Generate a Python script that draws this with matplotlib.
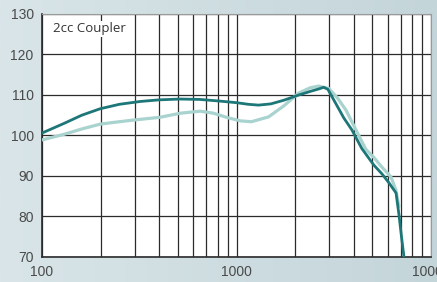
import numpy as np
import matplotlib.pyplot as plt
from matplotlib.colors import LinearSegmentedColormap
from matplotlib.ticker import FixedLocator, NullFormatter

# Frequency response readings (Hz, dB SPL)
dark_freq = [100, 130, 160, 199, 250, 320, 400, 514, 650, 817, 1000, 1150, 1297,
             1500, 1750, 2090, 2400, 2650, 2806, 2950, 3162, 3565, 3917, 4406,
             5080, 5600, 6080, 6610, 6840, 7050, 7260]
dark_db = [100.6, 103.0, 105.0, 106.6, 107.7, 108.4, 108.8, 109.0, 108.9, 108.5,
           108.1, 107.7, 107.5, 107.8, 108.7, 110.0, 110.9, 111.5, 111.9, 111.4,
           108.8, 104.3, 101.4, 96.8, 92.7, 90.5, 88.3, 85.8, 80.5, 75.0, 70.0]

light_freq = [100, 130, 160, 199, 240, 294, 405, 514, 651, 761, 900, 1050, 1194,
              1462, 1750, 2090, 2400, 2650, 2980, 3300, 3650, 4100, 4620, 5100,
              5590, 6220, 6600, 6840]
light_db = [98.9, 100.3, 101.6, 102.8, 103.3, 103.8, 104.5, 105.5, 106.0, 105.5,
            104.4, 103.6, 103.4, 104.6, 107.3, 110.5, 111.8, 112.2, 111.6, 109.3,
            106.3, 101.5, 96.6, 94.5, 92.2, 89.8, 86.5, 82.5]

y_ticks = [70, 80, 90, 100, 110, 120, 130]
x_labels = {100: '100', 1000: '1000', 10000: '10000'}
panel_label = '2cc Coupler'

fig = plt.figure(figsize=(4.37, 2.82), dpi=100)

# soft blue-grey backdrop
bg = fig.add_axes([0, 0, 1, 1], zorder=-10)
grad = np.tile(np.linspace(0, 1, 200), (50, 1))
cmap_bg = LinearSegmentedColormap.from_list('bg', ['#d9e5e8', '#c4d5da'])
bg.imshow(grad, extent=[0, 1, 0, 1], aspect='auto', cmap=cmap_bg)
bg.axis('off')

ax = fig.add_axes([0.0961, 0.0887, 0.8902, 0.8617])
ax.set_facecolor('white')
ax.set_xscale('log')
ax.set_xlim(100, 10000)
ax.set_ylim(70, 130)

minor = [m * d for d in (100, 1000) for m in range(2, 10)]
ax.xaxis.set_major_locator(FixedLocator(list(x_labels)))
ax.xaxis.set_minor_locator(FixedLocator(minor))
ax.xaxis.set_minor_formatter(NullFormatter())
ax.set_xticklabels(list(x_labels.values()))
ax.set_yticks(y_ticks)

ax.grid(True, which='both', axis='x', color='#2b2b2b', lw=0.9)
ax.grid(True, which='major', axis='y', color='#2b2b2b', lw=0.9)
ax.tick_params(which='both', length=0, labelsize=10, labelcolor='#4a4a4a', pad=6)
for lab in ax.get_xticklabels() + ax.get_yticklabels():
    lab.set_family('Liberation Sans')

for side in ('top', 'right'):
    ax.spines[side].set_color('#9a9a9a')
    ax.spines[side].set_linewidth(0.8)
for side in ('left', 'bottom'):
    ax.spines[side].set_color('#2b2b2b')
    ax.spines[side].set_linewidth(1.2)

ax.plot(light_freq, light_db, color='#a9d3cf', lw=2.3, solid_capstyle='round',
        solid_joinstyle='round', zorder=3)
ax.plot(dark_freq, dark_db, color='#1d7677', lw=2.0, solid_capstyle='round',
        solid_joinstyle='round', zorder=4)

ax.text(0.028, 0.965, panel_label, transform=ax.transAxes, fontsize=9.5,
        color='#333333', family='Open Sans', va='top', ha='left', zorder=5,
        bbox=dict(facecolor='white', edgecolor='none', pad=1))

fig.savefig('out.png', dpi=100)
